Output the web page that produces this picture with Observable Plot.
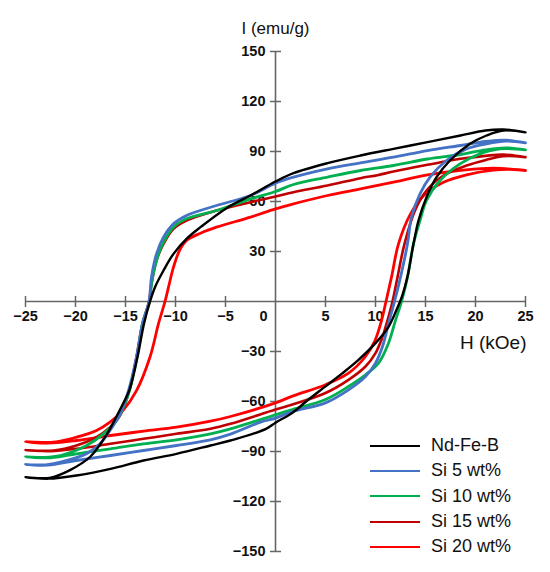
<!DOCTYPE html>
<html><head><meta charset="utf-8">
<script src="https://cdn.jsdelivr.net/npm/d3@7"></script>
<script src="https://cdn.jsdelivr.net/npm/@observablehq/plot@0.6"></script>
<style>
body{margin:0;background:#fff;font-family:"Liberation Sans",Arial,sans-serif;}
#wrap{position:relative;width:550px;height:572px;}
#legend{position:absolute;left:370px;top:433px;font-size:18px;color:#111;}
.row{display:flex;align-items:center;height:25.3px;}
.sw{width:50px;height:0;border-top:2.6px solid;margin-right:11px;}
</style></head><body><div id="wrap"><div id="legend"></div></div>
<script>
const xTicks = [-25,-20,-15,-10,-5,5,10,15,20,25];
const yTicks = [-150,-120,-90,-60,-30,30,60,90,120,150];
const xLabel = "H (kOe)";
const yLabel = "I (emu/g)";
const seriesNames = ["Nd-Fe-B","Si 5 wt%","Si 10 wt%","Si 15 wt%","Si 20 wt%"];
const seriesColors = ["#000000","#4472c4","#00b050","#c00000","#ff0000"];
const seriesWidths = [2.4, 2.8, 2.8, 2.6, 2.8];

// each loop: upper branch (H from +25 down to -25), then lower branch back to +25
const ndFeB = [[25,101.5],[22.8,103.2],[21,102.6],[18.5,99.6],[15.2,95.6],[11.8,91.6],[8.5,87.6],[5.2,83],[1.8,77],[0,72],[-2.5,63.6],[-4.9,56],[-7.5,44.6],[-8.9,37.6],[-10.2,28.6],[-11.2,18.6],[-12.05,8.6],[-12.55,0],[-13.15,-13.3],[-13.8,-33.3],[-14.6,-53],[-15.3,-62],[-15.9,-69],[-16.9,-80],[-18.5,-93],[-20.5,-101],[-22.6,-105.8],[-25,-105.4],
  [-22.7,-106.3],[-19.9,-104.4],[-16.5,-100.4],[-13.2,-95.4],[-9.9,-91.4],[-6.5,-86.4],[-4.5,-83.4],[-1,-76.6],[0,-72.7],[1.7,-66.7],[3.3,-58.8],[5,-50.9],[6.7,-43],[8.3,-35],[10,-25],[11.3,-15.2],[12.1,-5],[12.65,3],[13.2,15],[13.8,34.6],[14.3,48.6],[15.1,62.6],[16.1,74.6],[17.45,84.6],[19.45,94.6],[21.1,99.6],[22.8,102.6],[25,101.5]];
const si5 = [[25,95.2],[23,96.8],[21,96],[18.5,93.6],[15.2,90.5],[11.8,86.6],[8.5,83.2],[5.2,79.6],[1.8,74.6],[0,71],[-2.5,63.6],[-5.9,57.6],[-8.9,51.6],[-10.2,46.6],[-11.2,38.6],[-11.9,28.6],[-12.4,14.6],[-12.65,0],[-13.3,-13.3],[-13.9,-33.3],[-14.7,-53.5],[-15.55,-67.4],[-16.55,-77.4],[-17.55,-85.4],[-18.9,-91.4],[-21.5,-96.4],[-23,-98],[-25,-97.8],
  [-22.8,-98.2],[-19.9,-95.4],[-16.5,-92.4],[-13.2,-89.4],[-9.9,-86.4],[-6.5,-83],[-4.5,-79.6],[-1.5,-72.4],[0,-70],[1.7,-66],[5,-60.8],[7.3,-53],[9,-45],[10,-37],[10.7,-27],[11.3,-13.3],[11.9,0],[12.5,14.6],[13.2,34.6],[13.6,50.6],[14.45,64.6],[15.45,74.6],[17.1,84.6],[19.1,91.6],[21.1,94.6],[23.1,96.2],[25,95.2]];
const si10 = [[25,91],[23,92.2],[21,91],[18.5,88.2],[15.2,85.5],[11.8,81.6],[8.5,78.6],[5.2,74.6],[1.8,70.2],[0,66],[-2.5,61.6],[-5.9,54.6],[-8.9,49.6],[-10.2,44.6],[-11.2,35.6],[-11.9,24.6],[-12.4,10.6],[-12.6,0],[-13.3,-13.3],[-13.85,-33.3],[-14.6,-53.5],[-15.2,-63.4],[-15.9,-71.4],[-17.2,-79.4],[-18.9,-86.4],[-21.5,-92.4],[-23.2,-93.5],[-25,-93.2],
  [-22.5,-93.8],[-19.9,-91.4],[-16.5,-88.4],[-13.2,-85.4],[-9.9,-83],[-6.5,-79.4],[-4.5,-76.4],[0,-68],[1.7,-64.8],[5,-58.8],[7.3,-51],[9,-44],[10.3,-37],[11.3,-25],[12,-11.3],[12.6,0],[13.2,14.6],[13.8,34.6],[14.45,48.6],[15.1,60.6],[16.45,72.6],[18.45,82.6],[20.45,88.6],[22.45,91.6],[25,91]];
const si15 = [[25,86.6],[22.8,88.2],[21,87.4],[18.5,85.6],[15.2,82],[11.8,78],[10.2,75.8],[8.5,74],[5.2,69.6],[1.8,65.6],[0,63],[-2.5,59.6],[-5.9,54.6],[-8.9,48.6],[-10.2,43.6],[-11.2,34.6],[-11.9,24.6],[-12.4,10.6],[-12.65,0],[-13.3,-13.3],[-13.9,-33.3],[-14.6,-53],[-15.55,-68.4],[-16.55,-75.4],[-17.9,-81.4],[-19.9,-86.4],[-22.2,-89.4],[-25,-89.2],
  [-22.5,-89.8],[-19.9,-88.4],[-16.5,-85.4],[-13.2,-82.4],[-9.9,-79.4],[-6.5,-76.4],[-4.5,-73.4],[0,-64.8],[1.7,-61.8],[5,-54.9],[7.3,-47],[9,-39],[10,-31],[10.7,-21.2],[11.2,-11.3],[11.7,0],[12.2,14.6],[12.9,34.6],[13.95,54.6],[15.1,66.6],[16.8,75.6],[19.1,81.6],[21.1,85],[22.8,87.2],[25,86.6]];
const si20 = [[25,78.6],[21.8,80],[19,79],[15.2,76],[11.8,71.6],[8.5,67.6],[5.2,63.6],[1.8,58.6],[0,55.6],[-2.5,50.6],[-5.9,44.6],[-7.5,41],[-8.9,36.6],[-9.6,30.6],[-10.2,20.6],[-10.7,8.6],[-11.05,0],[-11.7,-13.3],[-12.55,-33.3],[-13.9,-53.5],[-15.2,-65],[-16.55,-72.4],[-17.9,-77.4],[-19.9,-81.4],[-22.2,-84.4],[-25,-84.2],
  [-22.8,-85],[-19.9,-83.4],[-16.5,-80.4],[-13.2,-77.8],[-9.9,-75.4],[-6.5,-71.8],[-4.5,-69],[0,-60.8],[1.7,-56.8],[5,-49.9],[7.3,-43],[9,-33],[9.95,-23.4],[10.6,-11.4],[11.05,0],[11.6,14.6],[12.3,34.6],[13.45,52],[14.8,63.5],[16.8,71.5],[19.1,76],[21.8,78.8],[23.8,79.2],[25,78.6]];

const loops = [ndFeB, si5, si10, si15, si20];
const rows = [];
loops.forEach((pts, i) => pts.forEach(([H, I]) => rows.push({series: seriesNames[i], H, I, w: seriesWidths[i]})));
const drawOrder = [4,3,2,1,0];
const ordered = drawOrder.flatMap(i => rows.filter(r => r.series === seriesNames[i]));

const fmt = d => String(d).replace("-", "\u2212");
const vTick = {draw(ctx, size){const r = Math.sqrt(size/Math.PI); ctx.moveTo(0,-r); ctx.lineTo(0,r);}};
const hTick = {draw(ctx, size){const r = Math.sqrt(size/Math.PI); ctx.moveTo(-r,0); ctx.lineTo(r,0);}};
const axisColor = "#666";
const font = "'Liberation Sans', Arial, sans-serif";

const chart = Plot.plot({
  width: 550, height: 572,
  marginLeft: 25, marginRight: 25, marginTop: 51, marginBottom: 21,
  x: {domain: [-25, 25], axis: null},
  y: {domain: [-150, 150], axis: null},
  color: {domain: seriesNames, range: seriesColors},
  style: {fontFamily: font, background: "#fff"},
  marks: [
    Plot.ruleY([0], {stroke: axisColor, strokeWidth: 1.6}),
    Plot.ruleX([0], {stroke: axisColor, strokeWidth: 1.6}),
    Plot.dot(xTicks, {x: d => d, y: 0, symbol: vTick, r: 5.5, fill: "none", stroke: axisColor, strokeWidth: 1.5}),
    Plot.dot(yTicks, {x: 0, y: d => d, symbol: hTick, r: 5.5, fill: "none", stroke: axisColor, strokeWidth: 1.5}),
    Plot.text(xTicks, {x: d => d, y: 0, text: fmt, dy: 15, fontSize: 14.5, fontWeight: "bold", fill: "#111"}),
    Plot.text([0], {x: d => d, y: 0, text: fmt, dy: 15, dx: -12, fontSize: 14.5, fontWeight: "bold", fill: "#111"}),
    Plot.text(yTicks, {x: 0, y: d => d, text: fmt, dx: -10, textAnchor: "end", fontSize: 14.5, fontWeight: "bold", fill: "#111"}),
    ...drawOrder.map(i => Plot.line(loops[i], {x: d => d[0], y: d => d[1], stroke: seriesColors[i], strokeWidth: seriesWidths[i], curve: "catmull-rom"})),
    Plot.text([yLabel], {text: d => d, frameAnchor: "top", dy: -30, fontSize: 17, fill: "#111"}),
    Plot.text([xLabel], {text: d => d, frameAnchor: "right", textAnchor: "end", dy: 41, dx: 1, fontSize: 19, fill: "#111"})
  ]
});
document.getElementById("wrap").prepend(chart);

const legend = document.getElementById("legend");
seriesNames.forEach((name, i) => {
  const row = document.createElement("div");
  row.className = "row";
  const sw = document.createElement("span");
  sw.className = "sw";
  sw.style.borderTopColor = seriesColors[i];
  const label = document.createElement("span");
  label.textContent = name;
  row.append(sw, label);
  legend.append(row);
});
</script></body></html>
